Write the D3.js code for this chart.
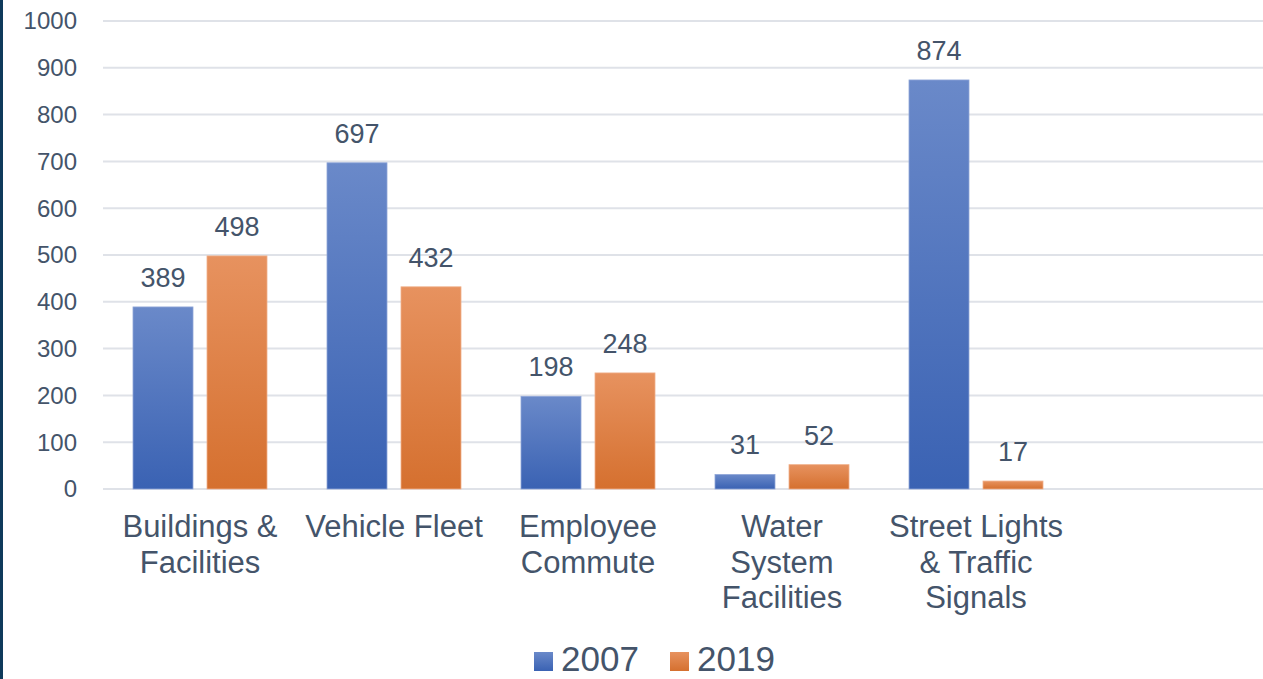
<!DOCTYPE html>
<html>
<head>
<meta charset="utf-8">
<script src="https://cdn.jsdelivr.net/npm/d3@7"></script>
<style>
  html, body { margin: 0; padding: 0; background: #fff; }
  body { width: 1263px; height: 679px; overflow: hidden; border-left: 3px solid #0e3a5b; box-sizing: border-box; }
  svg { display: block; font-family: "Liberation Sans", Arial, sans-serif; }
</style>
</head>
<body>
<svg id="chart" width="1260" height="679"></svg>
<script>
// Chart data
const categories = [
  ["Buildings &", "Facilities"],
  ["Vehicle Fleet"],
  ["Employee", "Commute"],
  ["Water", "System", "Facilities"],
  ["Street Lights", "& Traffic", "Signals"],
  [""]
];
const seriesNames = ["2007", "2019"];
const values2007 = [389, 697, 198, 31, 874, null];
const values2019 = [498, 432, 248, 52, 17, null];
const yTicks = [0, 100, 200, 300, 400, 500, 600, 700, 800, 900, 1000];

const textColor = "#44546a";
const colors = {
  "2007": ["#6a89c9", "#3a62b3"],
  "2019": ["#e7925f", "#d5702f"]
};

const svg = d3.select("#chart");
const offset = -3; // body border shifts svg

const x = d3.scaleBand()
  .domain(d3.range(categories.length))
  .range([103 + offset, 1267 + offset]);

const xInner = d3.scaleBand()
  .domain(seriesNames)
  .range([30, 164])
  .paddingInner(14 / 74);

const y = d3.scaleLinear().domain([0, 1000]).range([489, 21]);

// Gradients
const defs = svg.append("defs");
seriesNames.forEach(s => {
  const g = defs.append("linearGradient")
    .attr("id", "grad" + s)
    .attr("x1", 0).attr("y1", 0).attr("x2", 0).attr("y2", 1);
  g.append("stop").attr("offset", "0%").attr("stop-color", colors[s][0]);
  g.append("stop").attr("offset", "100%").attr("stop-color", colors[s][1]);
});

// Gridlines
svg.append("g")
  .selectAll("line")
  .data(yTicks)
  .join("line")
  .attr("x1", 103 + offset)
  .attr("x2", 1263)
  .attr("y1", d => y(d))
  .attr("y2", d => y(d))
  .attr("stroke", "#dfe2e8")
  .attr("stroke-width", 2);

// Y axis labels
svg.append("g")
  .selectAll("text")
  .data(yTicks)
  .join("text")
  .attr("x", 77 + offset)
  .attr("y", d => y(d))
  .attr("dy", "0.35em")
  .attr("text-anchor", "end")
  .attr("fill", textColor)
  .attr("font-size", 24)
  .text(d => d);

// Bars
const rows = [];
categories.forEach((c, i) => {
  rows.push({ i, s: "2007", v: values2007[i] });
  rows.push({ i, s: "2019", v: values2019[i] });
});
const valid = rows.filter(d => d.v != null);

svg.append("g")
  .selectAll("rect")
  .data(valid)
  .join("rect")
  .attr("x", d => x(d.i) + xInner(d.s))
  .attr("width", xInner.bandwidth())
  .attr("y", d => y(d.v))
  .attr("height", d => y(0) - y(d.v))
  .attr("fill", d => `url(#grad${d.s})`)
  .attr("stroke", d => d.s === "2007" ? "#8fa6d8" : "#f0b08a")
  .attr("stroke-width", 0.8);

// Data labels
svg.append("g")
  .selectAll("text")
  .data(valid)
  .join("text")
  .attr("x", d => x(d.i) + xInner(d.s) + xInner.bandwidth() / 2)
  .attr("y", d => y(d.v) - 20)
  .attr("text-anchor", "middle")
  .attr("fill", textColor)
  .attr("font-size", 27)
  .text(d => d.v);

// Category labels
const catG = svg.append("g")
  .selectAll("text")
  .data(categories)
  .join("text")
  .attr("x", (d, i) => x(i) + x.bandwidth() / 2)
  .attr("y", 537)
  .attr("text-anchor", "middle")
  .attr("fill", textColor)
  .attr("font-size", 31);
catG.selectAll("tspan")
  .data((d, i) => d.map(t => ({ t, i })))
  .join("tspan")
  .attr("x", d => x(d.i) + x.bandwidth() / 2)
  .attr("dy", (d, j) => j === 0 ? 0 : 35.5)
  .text(d => d.t);

// Legend
const legendX = [534 + offset, 670 + offset];
const legend = svg.append("g")
  .selectAll("g")
  .data(seriesNames)
  .join("g")
  .attr("transform", (d, i) => `translate(${legendX[i]},0)`);
legend.append("rect")
  .attr("x", 0).attr("y", 652)
  .attr("width", 19).attr("height", 19)
  .attr("fill", d => `url(#grad${d})`);
legend.append("text")
  .attr("x", 27)
  .attr("y", 671)
  .attr("fill", textColor)
  .attr("font-size", 35)
  .text(d => d);
</script>
</body>
</html>
